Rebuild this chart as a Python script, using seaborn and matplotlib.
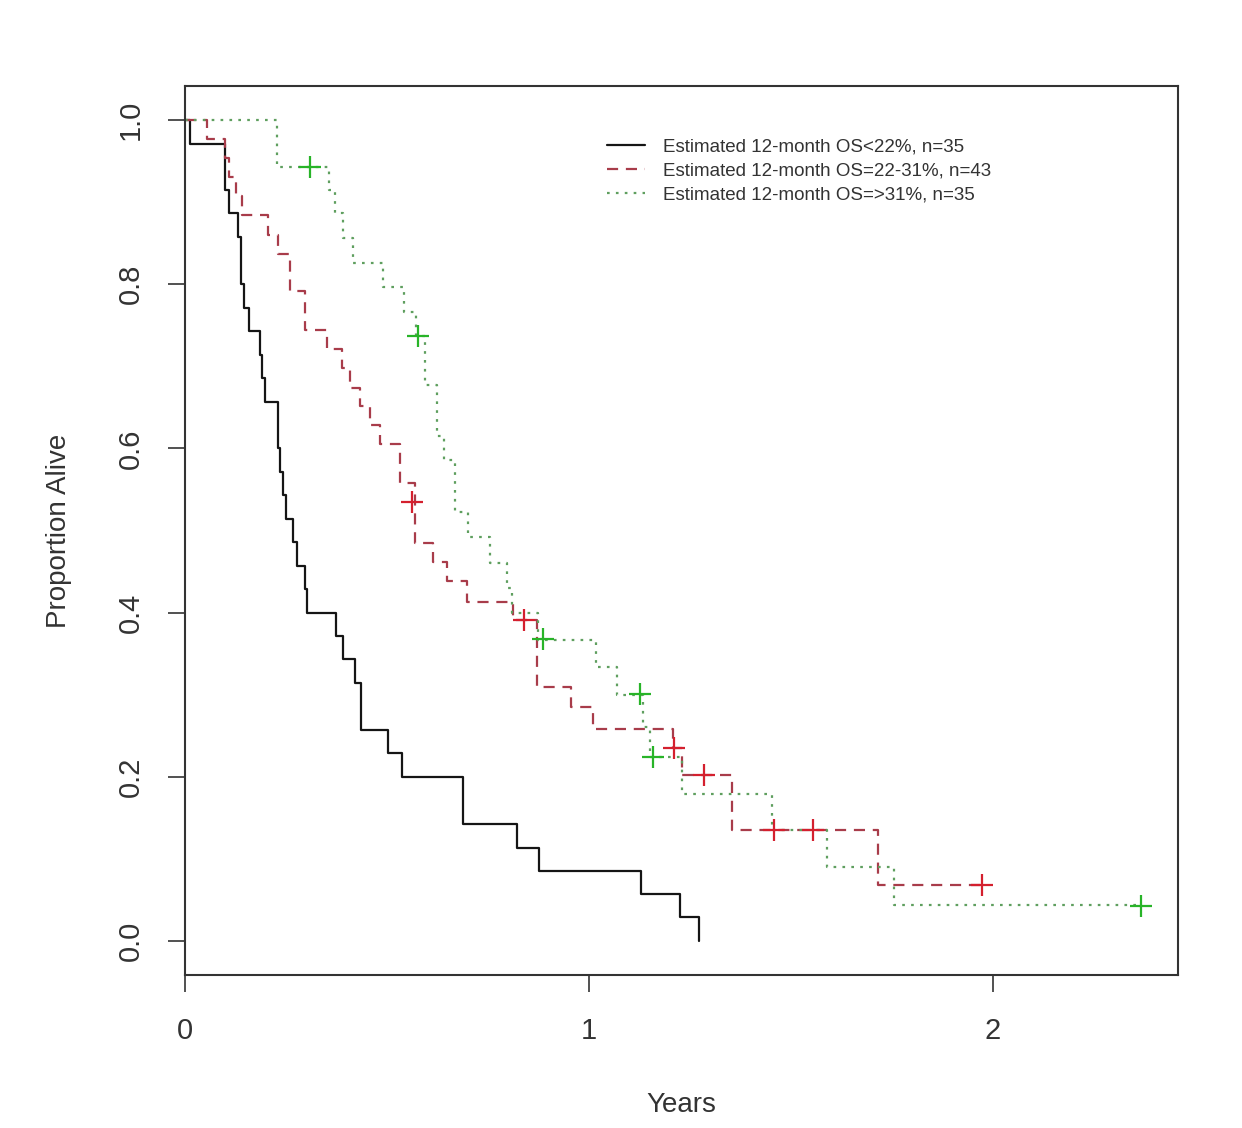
import pandas as pd
import numpy as np
import matplotlib
matplotlib.use('Agg')
import matplotlib.pyplot as plt
import seaborn as sns

# step curves: time (years) and proportion alive after each step
low_t = [0, 0.012, 0.100, 0.110, 0.131, 0.139, 0.145, 0.158, 0.186, 0.190, 0.198, 0.231, 0.235, 0.243,
         0.250, 0.268, 0.278, 0.297, 0.301, 0.373, 0.390, 0.421, 0.435, 0.503, 0.538, 0.689, 0.823,
         0.876, 1.128, 1.225, 1.272]
low_s = [1.000, 0.971, 0.914, 0.886, 0.857, 0.800, 0.771, 0.743, 0.714, 0.686, 0.657, 0.600, 0.571, 0.543,
         0.514, 0.486, 0.457, 0.429, 0.400, 0.371, 0.343, 0.314, 0.257, 0.229, 0.200, 0.143, 0.114,
         0.086, 0.057, 0.029, 0.000]

mid_t = [0, 0.054, 0.099, 0.110, 0.127, 0.140, 0.206, 0.231, 0.260, 0.297, 0.351, 0.388, 0.408, 0.433,
         0.458, 0.483, 0.532, 0.569, 0.615, 0.648, 0.697, 0.813, 0.872, 0.955, 1.009, 1.207, 1.229,
         1.353, 1.716, 1.974]
mid_s = [1.000, 0.977, 0.953, 0.930, 0.907, 0.884, 0.860, 0.837, 0.791, 0.744, 0.721, 0.698, 0.674, 0.651,
         0.628, 0.605, 0.558, 0.485, 0.462, 0.438, 0.413, 0.391, 0.310, 0.285, 0.258, 0.235, 0.203,
         0.136, 0.068, 0.068]
mid_cens_t = [0.561, 0.839, 1.210, 1.285, 1.458, 1.555, 1.974]
mid_cens_s = [0.535, 0.391, 0.235, 0.203, 0.136, 0.136, 0.068]

high_t = [0, 0.227, 0.356, 0.371, 0.392, 0.417, 0.491, 0.542, 0.573, 0.594, 0.623, 0.640, 0.668, 0.701,
          0.755, 0.796, 0.810, 0.875, 1.017, 1.070, 1.134, 1.152, 1.229, 1.454, 1.590, 1.756, 2.366]
high_s = [1.000, 0.943, 0.915, 0.886, 0.856, 0.826, 0.796, 0.766, 0.737, 0.677, 0.615, 0.586, 0.523, 0.492,
          0.460, 0.430, 0.399, 0.367, 0.334, 0.300, 0.261, 0.224, 0.179, 0.136, 0.090, 0.044, 0.044]
high_cens_t = [0.309, 0.577, 0.886, 1.126, 1.158, 2.366]
high_cens_s = [0.943, 0.737, 0.368, 0.301, 0.224, 0.043]

labels = ['Estimated 12-month OS<22%, n=35',
          'Estimated 12-month OS=22-31%, n=43',
          'Estimated 12-month OS=>31%, n=35']

df = pd.concat([
    pd.DataFrame({'time': low_t, 'surv': low_s, 'group': labels[0]}),
    pd.DataFrame({'time': mid_t, 'surv': mid_s, 'group': labels[1]}),
    pd.DataFrame({'time': high_t, 'surv': high_s, 'group': labels[2]}),
])

sns.set_theme(style='white')
plt.rcParams['font.family'] = ['Liberation Sans', 'DejaVu Sans']

fig = plt.figure(figsize=(12.42, 11.28), dpi=100)
ax = fig.add_axes([185 / 1242, 1 - 975 / 1128, 993 / 1242, 889 / 1128])

styles = {labels[0]: ('#151515', '-'),
          labels[1]: ('#a83c4a', (0, (5, 3.5))),
          labels[2]: ('#5f9f5f', (0, (1.2, 2.8)))}
for g in labels:
    col, ls = styles[g]
    sns.lineplot(df[df['group'] == g], x='time', y='surv', drawstyle='steps-post', estimator=None,
                 color=col, linestyle=ls, linewidth=1.6, label=g, ax=ax)

sns.scatterplot(x=mid_cens_t, y=mid_cens_s, marker='+', s=230, color='#d4202e', linewidth=1.6, ax=ax, zorder=4)
sns.scatterplot(x=high_cens_t, y=high_cens_s, marker='+', s=230, color='#28b428', linewidth=1.6, ax=ax, zorder=4)

ax.set_xlim(0, 2.458)
ax.set_ylim(-0.041, 1.041)
ax.set_xticks([0, 1, 2])
ax.set_xticklabels(['0', '1', '2'])
ax.set_yticks([0, 0.2, 0.4, 0.6, 0.8, 1.0])
ax.set_yticklabels(['0.0', '0.2', '0.4', '0.6', '0.8', '1.0'], rotation=90, va='center')
ax.tick_params(axis='both', direction='out', length=12, width=1.2, color='#333333',
               labelsize=21, labelcolor='#333333', left=True, bottom=True)
ax.tick_params(axis='x', pad=18)
ax.tick_params(axis='y', pad=17)
for sp in ax.spines.values():
    sp.set_color('#333333')
    sp.set_linewidth(1.5)

ax.set_xlabel('Years', fontsize=20, color='#333333', labelpad=34)
ax.set_ylabel('Proportion Alive', fontsize=20, color='#333333', labelpad=32)

handles, labs = ax.get_legend_handles_labels()
ax.legend(handles[:3], labs[:3], loc='upper left', bbox_to_anchor=(0.425, 0.941), frameon=False,
          borderpad=0, borderaxespad=0, handlelength=2.0, handletextpad=1.0, labelspacing=0.36,
          fontsize=13.5, labelcolor='#333333')

fig.savefig('out.png', dpi=100)
